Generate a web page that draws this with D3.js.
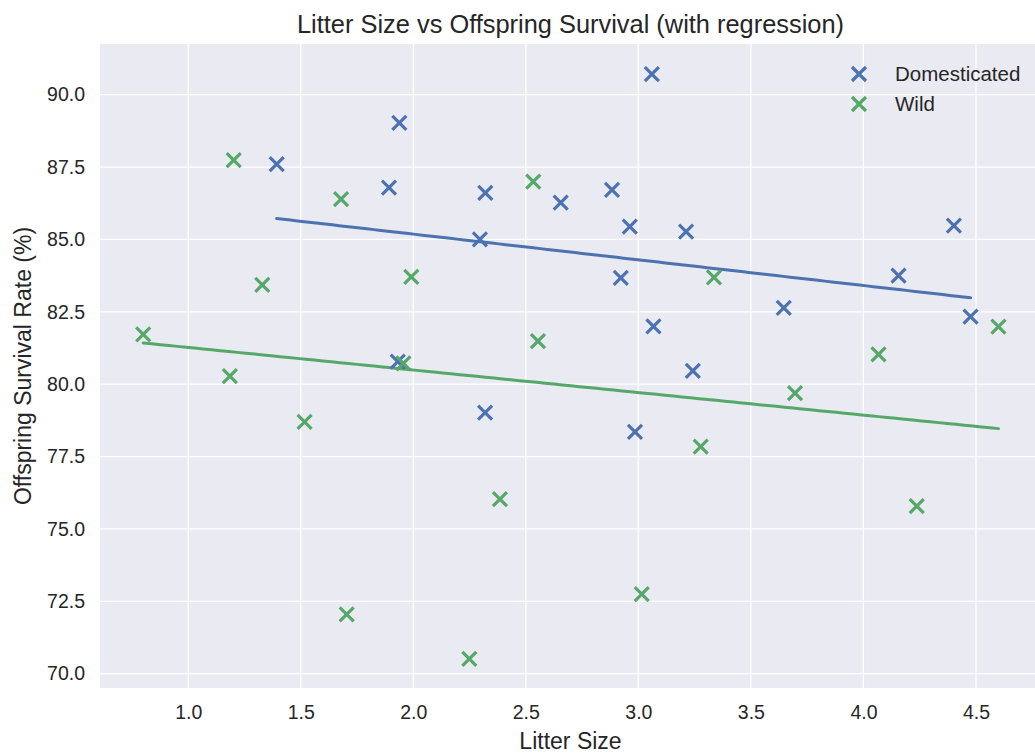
<!DOCTYPE html>
<html>
<head>
<meta charset="utf-8">
<script src="https://cdn.jsdelivr.net/npm/d3@7"></script>
<style>
  html, body { margin: 0; padding: 0; background: #ffffff; overflow: hidden; }
  svg { display: block; font-family: "Liberation Sans", Arial, sans-serif; }
</style>
</head>
<body>
<svg id="chart" width="1035" height="753"></svg>
<script>
// Litter size (x) and offspring survival rate in % (y) per group
const domesticatedLitter = [1.393, 1.938, 1.892, 2.320, 2.296, 3.060, 2.655, 2.883, 2.962, 3.212,
                            4.402, 2.922, 3.067, 3.242, 3.646, 4.156, 4.476, 2.985, 2.319, 1.931];
const domesticatedSurvival = [87.60, 89.03, 86.79, 86.61, 85.00, 90.71, 86.27, 86.71, 85.44, 85.27,
                              85.48, 83.67, 82.00, 80.46, 82.64, 83.75, 82.33, 78.35, 79.02, 80.78];
const wildLitter = [1.202, 1.679, 2.533, 0.800, 1.329, 1.991, 1.185, 1.517, 1.956, 2.385,
                    2.554, 3.336, 3.696, 3.277, 4.067, 4.600, 4.237, 3.015, 1.704, 2.249];
const wildSurvival = [87.74, 86.39, 87.00, 81.72, 83.43, 83.71, 80.28, 78.70, 80.72, 76.03,
                      81.49, 83.69, 79.69, 77.84, 81.03, 81.99, 75.79, 72.75, 72.05, 70.51];

const groupNames = ["Domesticated", "Wild"];
const groupColors = ["#4C72B0", "#55A868"];
const xTicks = [1.0, 1.5, 2.0, 2.5, 3.0, 3.5, 4.0, 4.5];
const yTicks = [70.0, 72.5, 75.0, 77.5, 80.0, 82.5, 85.0, 87.5, 90.0];

const groups = [
  { name: groupNames[0], color: groupColors[0], xs: domesticatedLitter, ys: domesticatedSurvival },
  { name: groupNames[1], color: groupColors[1], xs: wildLitter, ys: wildSurvival }
];

const svg = d3.select("#chart");
const plot = { left: 100, top: 44, right: 1041, bottom: 688 };

const x = d3.scaleLinear().domain([0.608, 4.789]).range([plot.left, plot.right]);
const y = d3.scaleLinear().domain([69.506, 91.751]).range([plot.bottom, plot.top]);

// Axes background
svg.append("rect")
  .attr("x", plot.left).attr("y", plot.top)
  .attr("width", plot.right - plot.left).attr("height", plot.bottom - plot.top)
  .attr("fill", "#EAEAF2");

// White grid lines
const grid = svg.append("g");
grid.selectAll("line.vx").data(xTicks).join("line")
  .attr("x1", d => x(d)).attr("x2", d => x(d))
  .attr("y1", plot.top).attr("y2", plot.bottom)
  .attr("stroke", "#ffffff").attr("stroke-width", 1.3);
grid.selectAll("line.hy").data(yTicks).join("line")
  .attr("x1", plot.left).attr("x2", plot.right)
  .attr("y1", d => y(d)).attr("y2", d => y(d))
  .attr("stroke", "#ffffff").attr("stroke-width", 1.3);

// Tick labels via d3 axes (no domain line, no tick marks)
const xAxis = d3.axisBottom(x).tickValues(xTicks).tickFormat(d3.format(".1f")).tickSize(0).tickPadding(17);
const gx = svg.append("g").attr("transform", `translate(0,${plot.bottom})`).call(xAxis);
const yAxis = d3.axisLeft(y).tickValues(yTicks).tickFormat(d3.format(".1f")).tickSize(0).tickPadding(15);
const gy = svg.append("g").attr("transform", `translate(${plot.left},0)`).call(yAxis);
[gx, gy].forEach(g => {
  g.select(".domain").remove();
  g.selectAll("text")
    .attr("fill", "#262626")
    .style("font-size", "19.5px")
    .style("font-family", "'Liberation Sans', Arial, sans-serif");
});

// Least-squares fit per group, drawn across the group's x extent
function fit(xs, ys) {
  const mx = d3.mean(xs), my = d3.mean(ys);
  let sxy = 0, sxx = 0;
  xs.forEach((v, i) => { sxy += (v - mx) * (ys[i] - my); sxx += (v - mx) * (v - mx); });
  const slope = sxy / sxx;
  return { slope, intercept: my - slope * mx };
}

const line = d3.line().x(d => x(d[0])).y(d => y(d[1]));
groups.forEach(g => {
  const f = fit(g.xs, g.ys);
  const [x0, x1] = d3.extent(g.xs);
  const pts = d3.range(0, 101).map(i => {
    const xv = x0 + (x1 - x0) * i / 100;
    return [xv, f.intercept + f.slope * xv];
  });
  svg.append("path").datum(pts)
    .attr("d", line)
    .attr("fill", "none")
    .attr("stroke", g.color)
    .attr("stroke-width", 3)
    .attr("stroke-linecap", "round");
});

// "x" markers
const r = 7;
function drawX(sel, color) {
  sel.append("path")
    .attr("d", `M${-r},${-r}L${r},${r}M${-r},${r}L${r},${-r}`)
    .attr("stroke", color)
    .attr("stroke-width", 3.2)
    .attr("fill", "none");
}
groups.forEach(g => {
  const pts = g.xs.map((v, i) => [v, g.ys[i]]);
  svg.append("g").selectAll("g").data(pts).join("g")
    .attr("transform", d => `translate(${x(d[0])},${y(d[1])})`)
    .each(function () { drawX(d3.select(this), g.color); });
});

// Legend
const legend = svg.append("g");
groups.forEach((g, i) => {
  const row = legend.append("g").attr("transform", `translate(859,${74 + i * 30})`);
  drawX(row, g.color);
  row.append("text")
    .attr("x", 36).attr("y", 7)
    .attr("fill", "#262626")
    .style("font-size", "20.5px")
    .text(g.name);
});

// Title and axis labels
svg.append("text")
  .attr("x", (plot.left + plot.right) / 2).attr("y", 33)
  .attr("text-anchor", "middle")
  .attr("fill", "#262626")
  .style("font-size", "25.4px")
  .text("Litter Size vs Offspring Survival (with regression)");

svg.append("text")
  .attr("x", (plot.left + plot.right) / 2).attr("y", 749)
  .attr("text-anchor", "middle")
  .attr("fill", "#262626")
  .style("font-size", "23px")
  .text("Litter Size");

svg.append("text")
  .attr("transform", `translate(31,${(plot.top + plot.bottom) / 2}) rotate(-90)`)
  .attr("text-anchor", "middle")
  .attr("fill", "#262626")
  .style("font-size", "23px")
  .text("Offspring Survival Rate (%)");
</script>
</body>
</html>
